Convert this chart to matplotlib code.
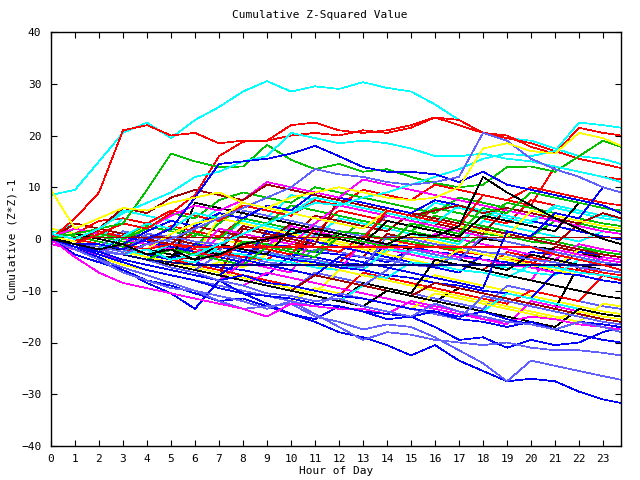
#imports
import matplotlib
matplotlib.use("Agg")
import matplotlib.pyplot as plt

# hour of day (last sample at 23:45)
hours = list(range(24)) + [23.75]

# gnuplot-style line colours
R, G, B, M, C = "#ff0000", "#00c000", "#0000ff", "#ff00ff", "#00ffff"
D, Y, K, L = "#a00000", "#ffff00", "#000000", "#6060ff"

# prominent upper walks
top_walks = [
    [8.5, 9.5, 15, 20.5, 22.5, 19.5, 23, 25.5, 28.5, 30.5, 28.5, 29.5, 29, 30.3, 29.2, 28.5, 26, 23, 20.5, 19.5, 19, 17.5, 16, 15.5, 14.5],
    [0, 4, 9, 21, 22, 20, 20.5, 18.5, 19, 19, 22, 22.5, 21, 20.5, 21, 22, 23.5, 23, 20.5, 19.5, 18.5, 17, 15.5, 14.5, 13.7],
    [0, -1, 1, 3, 2, 5, 8.5, 16, 18.8, 19, 20, 20.5, 20, 21, 20.5, 21.5, 23.5, 22, 20.5, 20, 17.8, 16.5, 21.5, 20.5, 20],
    [0, 1, 2, 3, 9.5, 16.5, 15, 13.9, 14, 18.2, 15.3, 13.5, 14.5, 13, 13.5, 12, 10.8, 10, 10.5, 13.9, 14, 13, 16, 19, 17.8],
    [1, 0, 2, 5, 7, 9, 12, 13, 15, 16, 20.5, 19.5, 18.5, 19, 18.5, 17.5, 16, 16, 16.5, 15.5, 15, 14, 13, 12, 11],
    [0, -1, -2, -3, -2, -4, -3, -1, 1, 3, 5, 7, 6.5, 8, 9, 10.5, 12, 13.5, 15.5, 16.5, 16, 17, 22.5, 22, 21.5],
    [0, -1, -1, -2, 0, 2, 8, 14.5, 15, 15.5, 16.5, 18, 16, 13.9, 13, 13, 12.5, 11, 13, 10.5, 9.5, 8.5, 7.5, 6.5, 5],
    [0, -1, -2, -3, -1, 0, 2, 4, 6, 8, 10, 13.5, 12.5, 12, 11, 10.5, 11, 12, 20.5, 19, 15.5, 13.5, 12, 10, 9],
    [9.5, 2, 4, 6, 5.5, 7, 8, 9, 7, 6, 8, 9, 10, 9, 8, 7.5, 8, 10, 17.5, 18.5, 17, 16.5, 20.5, 19.5, 18],
    [0, -1, -2, -1, -3, -2, -4, -3, -1, 0, 1, 2, 1, 0, -1, 1, 0.5, 2.5, 12, 9, 6.5, 4, 2, 0, -1],
]
top_colors = [C, R, R, G, C, C, B, L, Y, K]

# prominent lower walks
low_walks = [
    [0, -3, -4.5, -6, -8, -9, -10.5, -12, -11.5, -13, -14.5, -16, -18, -19, -20.5, -22.5, -20.5, -23.5, -25.5, -27.5, -27, -27.5, -29.5, -31, -31.7],
    [0, -2, -3.5, -6, -8.5, -10.5, -13.5, -8, -10.5, -12.5, -14.5, -15.5, -13, -14, -15.5, -15, -17, -19.5, -19, -21, -19.5, -20.5, -20, -18, -17],
    [0, -2, -4, -6.5, -8, -9.5, -10, -12, -13.5, -13, -12.5, -15, -16, -17.5, -16.5, -17, -19, -21.5, -24, -27.5, -23.5, -24.5, -25.5, -26.5, -27.2],
    [0, -2, -4, -5.5, -7, -8.5, -10, -11, -12, -13.5, -12, -14.5, -17, -19.5, -18, -18.5, -19.5, -20, -20.5, -20, -21, -21.5, -21.5, -22, -22.5],
    [0, -3.5, -6.5, -8.5, -9.5, -10.5, -11.5, -12.5, -13.5, -15, -12.5, -13, -13.5, -13.5, -14.5, -12, -13, -14, -15.5, -16, -15, -15.5, -16.5, -17, -17.5],
    [0, -1.5, -3, -4.5, -6, -7, -8, -9.5, -10.5, -11, -11.5, -12.5, -13, -14, -14.5, -15, -14, -15.5, -16, -17, -16, -17.5, -18.5, -19.5, -20],
    [0, -1, -2.5, -4, -5, -6, -7, -8, -7, -8.5, -9, -10, -11, -11.5, -12.5, -13.5, -14, -15, -14, -15.5, -16.5, -17.5, -16, -16.5, -17],
    [0, -1, -2, -3, -4, -5.5, -6.5, -8, -9, -10.5, -11, -12, -11.5, -13, -14, -15, -12.5, -14, -15, -16, -16.5, -17.5, -16, -17, -18],
]
low_colors = [B, B, L, L, M, B, B, L]

# the dense middle band
mid_walks = [
    [0.5, -0.5, 1.5, 0.5, -0.5, 2.5, 1.5, 0.5, 4.0, 3.0, 2.0, 1.0, 5.5, 4.5, 3.5, 2.5, 6.0, 5.0, 4.0, 3.0, 7.5, 6.5, 5.5, 4.5, 4.0],
    [1.5, 0.5, -0.5, -1.5, 2.5, 1.5, 0.5, 5.0, 4.0, 3.0, 2.0, 1.0, 0.0, 3.5, 2.5, 1.5, 0.5, -0.5, 2.5, 1.5, 0.5, -0.5, -1.5, -2.5, -3.0],
    [0.0, -1.0, -1.5, -2.5, -1.0, -1.5, -2.5, -3.0, -3.5, -1.0, -1.5, -2.5, -3.0, -3.5, -4.5, -2.0, -2.5, -3.5, -4.0, -5.0, -2.5, -3.0, -4.0, -4.5, -5.0],
    [-0.5, -1.5, -2.5, -1.0, -2.0, -3.0, -4.0, 0.5, -0.5, -1.5, 2.5, 1.5, 0.5, -0.5, -1.5, -2.5, 1.0, 0.0, -1.0, -2.0, -3.0, -4.0, -1.0, -2.0, -2.5],
    [1.0, 3.0, 2.0, 5.5, 4.5, 3.5, 2.5, 6.0, 5.0, 4.0, 8.5, 7.5, 6.5, 5.5, 4.5, 3.5, 7.0, 6.0, 5.0, 4.0, 3.0, 6.5, 5.5, 4.5, 4.0],
    [0.0, -1.0, -2.0, -3.0, -4.0, -1.5, -2.5, -3.5, -4.5, 0.5, -0.5, -1.5, -2.5, -3.5, 1.0, 0.0, -1.0, -2.0, -3.0, -4.0, -5.0, -1.5, -2.5, -3.5, -4.0],
    [2.0, 1.0, 0.0, -1.0, 3.0, 2.0, 1.0, 0.0, -1.0, -2.0, 1.5, 0.5, -0.5, -1.5, -2.5, 0.5, -0.5, -1.5, -2.5, -3.5, -4.5, -5.5, -2.0, -3.0, -3.5],
    [0.0, -0.5, -1.5, -2.0, -3.0, -3.5, -1.0, -1.5, -2.5, -3.0, -4.0, 1.0, 0.5, -0.5, -1.0, -2.0, -2.5, -3.5, 0.0, -0.5, -1.5, -2.0, -3.0, -3.5, -4.0],
    [-1.0, -1.5, -2.5, -3.0, -4.0, -1.5, -2.0, -3.0, -3.5, -4.5, -5.0, -2.0, -2.5, -3.5, -4.0, -5.0, -5.5, -2.5, -3.0, -4.0, -4.5, -5.5, -6.0, -3.5, -4.0],
    [0.0, 2.0, 1.0, 0.0, -1.0, -2.0, 1.5, 0.5, -0.5, -1.5, -2.5, -3.5, -4.5, -1.0, -2.0, -3.0, -4.0, -5.0, -6.0, -2.5, -3.5, -4.5, -5.5, -6.5, -7.0],
    [0.5, -0.5, -1.5, -2.5, 0.5, -0.5, -1.5, 3.0, 6.5, 5.5, 4.5, 7.5, 6.5, 5.5, 4.5, 3.5, 6.0, 5.0, 4.0, 7.0, 6.0, 5.0, 4.0, 3.0, 2.5],
    [0.0, -1.0, -1.5, -2.5, -3.0, -4.0, -4.5, -5.5, -6.0, -7.0, -3.0, -3.5, -4.5, -5.0, -1.0, -1.5, -2.5, -3.0, -4.0, -4.5, -5.5, -6.0, -2.5, -3.0, -3.5],
    [0.0, -1.0, -1.5, -2.5, -3.0, -4.0, -4.5, -2.5, -3.0, -4.0, -4.5, -5.5, -6.0, -0.5, -1.0, -2.0, -2.5, -3.5, -4.0, -5.0, -5.5, -6.5, -7.0, -3.5, -4.0],
    [0.0, 1.0, 0.0, 4.0, 3.0, 2.0, 1.0, 0.0, 3.5, 2.5, 1.5, 0.5, 4.0, 3.0, 2.0, 1.0, 0.0, -1.0, 3.5, 2.5, 1.5, 0.5, -0.5, 1.5, 1.0],
    [1.0, 0.0, -1.0, -2.0, 1.0, 0.0, -1.0, -2.0, 2.5, 1.5, 0.5, 4.5, 3.5, 2.5, 1.5, 5.0, 4.0, 3.0, 2.0, 1.0, 0.0, -1.0, 3.0, 2.0, 1.5],
    [0.0, -1.0, -2.0, -3.0, -4.0, -5.0, -6.0, -4.5, -5.5, -3.0, -4.0, -5.0, -6.0, -7.0, -8.0, -9.0, -7.0, -8.0, -9.0, -10.0, -11.0, -12.0, -13.0, -14.0, -14.5],
    [0.0, -1.0, -2.0, -3.0, -4.0, -1.0, -2.0, -3.0, -4.0, -5.0, -6.0, -7.0, -8.0, -9.0, -10.0, -11.0, -12.0, -9.5, -10.5, -11.5, -12.5, -13.5, -5.0, -6.0, -6.5],
    [0.5, -0.5, -1.5, 1.5, 0.5, -0.5, -1.5, -2.5, 5.5, 4.5, 3.5, 2.5, 1.5, 0.5, 4.5, 3.5, 2.5, 1.5, 0.5, -0.5, -1.5, -2.5, -3.5, -4.5, -5.0],
    [0.0, -1.0, 1.0, 0.5, -0.5, -1.0, -2.0, -2.5, -3.5, -4.0, -1.0, -1.5, -2.5, 0.5, 0.0, -1.0, -1.5, -2.5, -3.0, -4.0, -4.5, -5.5, -6.0, -7.0, -7.5],
    [0.0, 1.0, 0.5, -0.5, -1.0, -2.0, -2.5, -3.5, -0.5, -1.0, -2.0, -2.5, 1.5, 1.0, 0.0, -0.5, -1.5, -2.0, 1.0, 0.5, -0.5, -1.0, -2.0, -2.5, -3.0],
    [0.0, -1.5, -2.5, 0.5, -0.5, -1.5, -2.5, -3.5, -4.5, 1.5, 0.5, -0.5, -1.5, -2.5, -3.5, -4.5, -5.5, -6.5, -3.0, -4.0, -5.0, -6.0, -7.0, -8.0, -8.5],
    [-1.0, -2.0, -3.0, -4.0, -5.0, -6.0, -7.0, -8.0, -4.5, -5.5, -6.5, 1.0, 0.0, -1.0, -2.0, -3.0, -4.0, -5.0, -6.0, -7.0, -8.0, -2.0, -3.0, -4.0, -4.5],
    [0.0, -1.0, -1.5, -2.5, -3.0, -4.0, -4.5, -1.5, -2.0, -3.0, -3.5, -4.5, -5.0, -6.0, -2.0, -2.5, -3.5, -4.0, -5.0, -5.5, -6.5, -7.0, -4.0, -4.5, -5.0],
    [0.0, 3.0, 2.0, 1.0, 0.0, -1.0, 2.5, 1.5, 0.5, -0.5, 3.0, 2.0, 1.0, 0.0, 5.0, 4.0, 3.0, 2.0, 1.0, 6.0, 5.0, 4.0, 3.0, 2.0, 1.5],
    [0.0, -1.0, -2.0, -3.0, -1.0, -2.0, -3.0, 4.0, 3.0, 2.0, 1.0, 0.0, -1.0, -2.0, -3.0, -4.0, -5.0, -2.0, -3.0, -4.0, -5.0, -6.0, -7.0, -8.0, -8.5],
    [0.5, -0.5, -1.5, -2.5, -3.5, -4.5, 7.0, 6.0, 5.0, 4.0, 3.0, 2.0, 1.0, 0.0, -1.0, -2.0, -3.0, -4.0, -5.0, -6.0, -3.0, -4.0, -5.0, -6.0, -6.5],
    [0.0, -1.0, -2.0, -3.0, -4.0, -5.0, -6.0, -7.0, -8.0, -9.0, -10.0, -6.5, -7.5, -8.5, -9.5, -10.5, -11.5, -12.5, -13.5, -9.0, -10.0, -11.0, -12.0, -13.0, -13.5],
    [1.0, 0.0, -1.0, -2.0, -3.0, -4.0, -5.0, -6.0, -7.0, -8.0, -9.0, -10.0, -11.0, -6.5, -7.5, -8.5, -9.5, -10.5, -11.5, -12.5, -10.0, -11.0, -12.0, -7.0, -8.0],
    [0.0, 2.0, 1.0, 0.0, 3.0, 2.0, 1.0, 0.0, 4.0, 3.0, 6.5, 5.5, 4.5, 3.5, 2.5, 1.5, 4.5, 3.5, 2.5, 1.5, 0.5, 3.5, 2.5, 1.5, 1.0],
    [0.0, -1.0, -1.5, -2.5, -3.0, -4.0, -1.0, -1.5, -2.5, -3.0, -4.0, -4.5, -5.5, -6.0, -7.0, -7.5, -8.5, -9.0, -10.0, -10.5, -11.5, -6.5, -7.0, -8.0, -8.5],
    [0.0, -1.0, 1.0, 0.0, -1.0, -2.0, -3.0, 2.0, 1.0, 0.0, -1.0, 3.0, 6.5, 5.5, 4.5, 3.5, 2.5, 1.5, 0.5, -0.5, -1.5, -2.5, -3.5, -4.5, -5.0],
    [0.0, -1.0, -1.5, -2.5, -3.0, -1.0, -1.5, -2.5, -3.0, -4.0, -4.5, -5.5, -6.0, -7.0, -7.5, -4.5, -5.0, -6.0, -6.5, -7.5, -5.0, -5.5, -6.5, -7.0, -7.5],
    [0.0, -1.0, -2.0, -3.0, -4.0, -5.0, -6.0, -7.0, 2.0, 1.0, 0.0, -1.0, 8.0, 7.0, 6.0, 5.0, 4.0, 3.0, 2.0, 1.0, 0.0, -1.0, -2.0, -3.0, -3.5],
    [0.5, -0.5, -1.5, -2.5, -3.5, -4.5, -5.5, -6.5, -7.5, -8.5, -9.5, -10.5, -6.0, -7.0, -8.0, -9.0, -10.0, -11.0, -12.0, -13.0, -14.0, -15.0, -16.0, -12.5, -13.0],
    [0.0, -1.0, -2.0, -3.0, -4.0, -5.0, -6.0, -7.0, -8.0, -9.0, -10.0, -11.0, -12.0, -8.5, -9.5, -10.5, -4.0, -5.0, -6.0, -7.0, -8.0, -9.0, -10.0, -11.0, -11.5],
    [0.0, -1.0, -1.5, -2.5, 1.0, 0.5, -0.5, -1.0, -2.0, -2.5, -3.5, -4.0, -5.0, -5.5, 0.5, 0.0, -1.0, -1.5, -2.5, -3.0, -4.0, -4.5, -5.5, -6.0, -6.5],
    [0.0, 1.0, 3.5, 4.0, 3.0, 5.5, 4.5, 3.5, 6.5, 5.5, 4.5, 7.5, 6.5, 9.5, 8.5, 7.5, 10.5, 9.5, 8.5, 7.5, 10.0, 9.0, 8.0, 7.0, 6.5],
    [0.0, -1.0, 1.0, 0.0, 2.0, 5.0, 4.0, 7.5, 9.0, 8.0, 7.0, 10.0, 9.0, 8.0, 7.0, 6.0, 5.0, 8.0, 7.0, 6.0, 5.0, 4.0, 3.0, 2.0, 1.5],
    [0.0, 1.0, 0.0, -1.0, 1.5, 3.5, 2.5, 5.0, 4.0, 6.5, 5.5, 9.0, 8.0, 7.0, 6.0, 5.0, 7.5, 6.5, 5.5, 4.5, 3.5, 2.5, 1.5, 0.5, 0.0],
    [0.5, 2.0, 1.0, 3.0, 2.0, 4.5, 6.5, 5.5, 7.5, 11.0, 10.0, 9.0, 8.0, 11.5, 10.5, 9.5, 8.5, 7.5, 6.5, 5.5, 4.5, 3.5, 2.5, 1.5, 1.0],
    [0.0, -1.0, -2.0, 0.5, 3.0, 2.0, 5.0, 4.0, 7.0, 6.0, 5.0, 8.0, 7.0, 6.0, 5.0, 4.0, 3.0, 6.5, 5.5, 4.5, 3.5, 6.0, 5.0, 4.0, 3.5],
    [0.0, -1.0, 2.0, 6.0, 5.0, 8.0, 9.5, 8.5, 7.5, 10.5, 9.5, 8.5, 7.5, 6.5, 5.5, 4.5, 5.5, 6.5, 5.0, 6.0, 5.0, 4.0, 3.0, 5.0, 4.0],
    [0.0, -1.0, -2.0, -1.0, -2.0, 1.0, 3.0, 4.0, 7.0, 6.0, 5.0, 4.0, 3.0, 2.0, 5.5, 4.5, 3.5, 2.5, 1.5, 0.5, 5.5, 4.5, 3.5, 2.5, 2.0],
    [0.0, 1.0, 0.0, -1.0, -2.0, -3.0, -4.0, -1.0, -2.0, -3.0, 2.0, 1.0, 0.0, -1.0, 3.5, 2.5, 1.5, 0.5, 4.5, 3.5, 2.5, 1.5, 7.0, 6.0, 5.5],
    [0.0, -1.0, -2.0, -3.0, -4.0, -5.0, -6.0, -3.0, -4.0, -5.0, -6.0, -7.0, -8.0, -9.0, -6.0, -2.0, -3.0, -4.0, 0.5, -0.5, -1.5, -2.5, -3.5, -4.5, -5.0],
    [0.0, -1.0, -2.0, -3.0, -4.0, -5.0, -2.5, -3.5, -1.0, -2.0, -3.0, 2.0, 1.0, 0.0, 5.5, 4.5, 3.5, 2.5, 8.5, 7.5, 6.5, 14.0, 13.0, 12.0, 11.5],
    [0.0, -1.0, -2.0, -3.0, -4.0, -2.0, -3.0, -4.0, -5.0, -1.5, -2.5, -3.5, 0.5, -0.5, -1.5, 3.0, 2.0, 1.0, 6.0, 5.0, 9.0, 8.0, 7.0, 6.0, 5.5],
    [0.0, -1.0, -2.0, -3.0, -4.0, -5.0, -6.0, -7.0, -4.0, -5.0, -6.0, -7.0, -3.5, -4.5, -5.5, -6.5, -7.5, -8.5, -9.5, 1.5, 0.5, 5.0, 4.0, 10.0, 9.0],
    [0.0, -2.0, -3.0, -4.0, -5.0, -6.0, -7.0, -8.0, -9.0, -6.5, -7.5, -8.5, -9.5, -10.5, -11.5, -12.5, -13.5, -14.5, -15.5, -16.5, -12.0, -13.0, -14.0, -15.0, -15.5],
    [0.0, -1.0, -2.0, -3.0, -4.0, -5.0, -6.0, -7.0, -8.0, -9.0, -10.0, -11.0, -12.0, -9.0, -10.0, -11.0, -12.0, -13.0, -14.0, -10.5, -11.5, -12.5, -13.5, -14.5, -15.0],
    [0.0, -1.0, -2.0, -3.0, -4.0, -5.0, -6.0, -7.0, -8.0, -9.0, -10.0, -7.0, -8.0, -9.0, -10.0, -11.0, -8.5, -9.5, -10.5, -11.5, -12.5, -13.5, -14.5, -15.5, -16.0],
    [0.0, -2.0, -3.5, -5.0, -6.0, -7.0, -8.0, -9.0, -10.0, -11.0, -12.0, -9.5, -10.5, -11.5, -12.5, -13.5, -10.5, -11.5, -12.5, -13.5, -14.5, -15.5, -14.0, -15.0, -15.5],
    [0.0, -1.0, -2.0, -3.0, -4.0, -5.0, -6.0, -7.0, -8.0, -9.0, -10.0, -11.0, -12.0, -13.0, -10.0, -11.0, -12.0, -13.0, -14.0, -15.0, -16.0, -17.0, -13.5, -14.5, -15.0],
    [0.0, -1.5, -3.0, -4.5, -6.0, -7.0, -8.0, -9.0, -10.0, -11.0, -12.0, -13.0, -10.5, -11.5, -12.5, -13.5, -14.5, -15.5, -11.0, -12.0, -13.0, -14.0, -15.0, -16.0, -16.5],
    [0.0, -1.0, -2.0, -3.0, -4.0, -5.0, -6.0, -7.0, -8.0, -6.0, -7.0, -8.0, -9.0, -10.0, -7.5, -8.5, -9.5, -10.5, -11.5, -8.0, -9.0, -10.0, -11.0, -12.0, -12.5],
]
mid_colors = [R, G, B, M, C, D, Y, K, L] * 6

# series that sit flat for most of the day
flat_walks = [
    [0.3, 0.3, 0.3, 0.3, 0.3, 0.3, 0.3, 0.3, 0.3, 0.3, 0.3, 0.3, 0.3, 0.3, 0.3, 0.3, 0.3, 0.3, 0.3, 0.3, 0.3, 0.3, 0.3, 0.3, 0.3],
    [0.0, -1.0, -2.0, -3.0, -4.0, -4.5, -5.0, -5.0, -5.0, -5.0, -5.0, -5.0, -5.0, -5.0, -5.0, -5.0, -5.0, -5.0, -5.0, -5.0, -5.0, -5.0, -5.0, -5.0, -5.0],
    [0.0, -1.0, -2.0, -1.0, -2.0, -1.0, -1.5, -1.6, -1.6, -1.6, -1.6, -1.6, -1.6, -1.6, -1.6, -1.6, -1.6, -1.6, -1.6, -1.6, -1.6, -3.0, -4.0, -5.0, -6.0],
]
flat_colors = [D, "#000080", R]

fig = plt.figure(figsize=(6.4, 4.8), dpi=100)
ax = fig.add_axes([51 / 640, 1 - 446 / 480, 570 / 640, 414 / 480])

for walks, colors in [(mid_walks, mid_colors), (low_walks, low_colors),
                      (flat_walks, flat_colors), (top_walks, top_colors)]:
    for vals, col in zip(walks, colors):
        ax.plot(hours, vals, color=col, lw=0.5, antialiased=False)

mono = "DejaVu Sans Mono"
fs = 8
ax.set_xlim(0, 23.75)
ax.set_ylim(-40, 40)
ax.set_xticks(range(24))
ax.set_yticks(range(-40, 41, 10))
ax.tick_params(direction="in", length=4.5, width=0.8, top=True, right=True,
               labelsize=fs)
ax.tick_params(axis="x", pad=6)
ax.tick_params(axis="y", pad=7)
for lab in ax.get_xticklabels() + ax.get_yticklabels():
    lab.set_family(mono)
for sp in ax.spines.values():
    sp.set_linewidth(1.0)

ax.set_xlabel("Hour of Day", family=mono, fontsize=fs)
ax.set_ylabel("Cumulative (Z*Z)-1", family=mono, fontsize=fs)
ax.xaxis.set_label_coords(0.5, -(466 - 446) / 414)
ax.yaxis.set_label_coords(-(51 - 18) / 570, 0.5)
fig.text(0.5, 1 - 15 / 480, "Cumulative Z-Squared Value", family=mono,
         fontsize=fs, ha="center", va="center")

fig.savefig("out.png", dpi=100)
